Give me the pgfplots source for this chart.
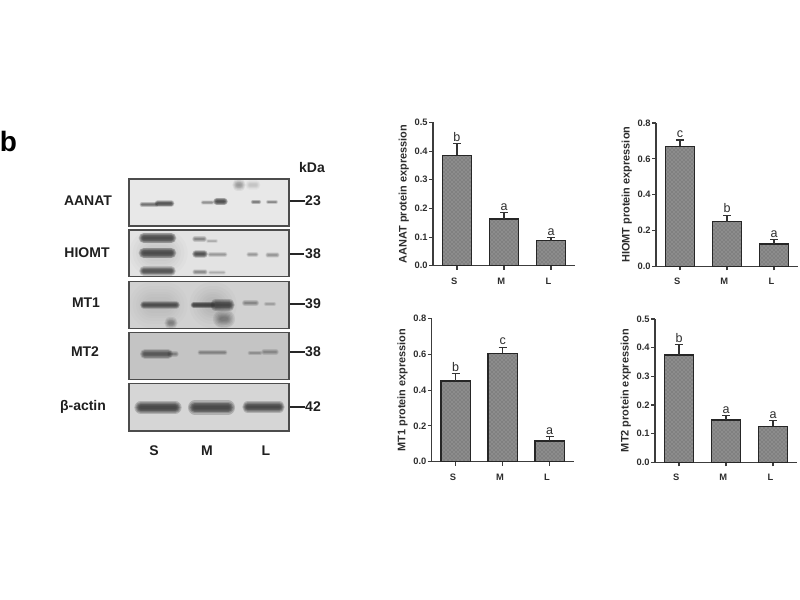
\documentclass[border=0pt]{standalone}
\usepackage{fontspec}
\setmainfont{Liberation Sans}
\usepackage{pgfplots}
\pgfplotsset{compat=1.18}
\usetikzlibrary{patterns}
\definecolor{axisgrey}{RGB}{60,60,60}
\definecolor{labelgrey}{RGB}{45,45,45}

% one blurry blot band, in pixel coordinates of the hidden axis
\newcommand{\bandlayer}[6]{%
  \addplot[forget plot, line cap=round, black!80, line width={#4*#6*1pt}, opacity={#5*0.24}] coordinates {(#1,#3) (#2,#3)};
}
\newcommand{\band}[5]{%
  \bandlayer{#1}{#2}{#3}{#4}{#5}{1.7}
  \bandlayer{#1}{#2}{#3}{#4}{#5}{1.45}
  \bandlayer{#1}{#2}{#3}{#4}{#5}{1.2}
  \bandlayer{#1}{#2}{#3}{#4}{#5}{1.0}
  \bandlayer{#1}{#2}{#3}{#4}{#5}{0.8}
  \bandlayer{#1}{#2}{#3}{#4}{#5}{0.6}
  \bandlayer{#1}{#2}{#3}{#4}{#5}{0.4}
}
\newcommand{\blotframe}[3]{%
  \addplot[forget plot, fill=#3, draw=none] coordinates {(129,#1) (289,#1) (289,#2) (129,#2)} -- cycle;
}
\newcommand{\blotedge}[2]{%
  \addplot[forget plot, draw=black!70, line width=0.8pt] coordinates {(129,#1) (289,#1) (289,#2) (129,#2)} -- cycle;
}

\pgfplotsset{
  expbar/.style={
    scale only axis, width=106.5pt, height=107.5pt,
    anchor=south west, clip=false,
    xmin=-0.51, xmax=2.51, ymin=0,
    axis lines=left, axis line style={-, axisgrey, line width=1pt},
    xtick={0,1,2}, xticklabels={S,M,L},
    tick align=outside, major tick length=3pt,
    tick style={axisgrey, line width=0.8pt},
    x tick label style={font=\fontsize{7}{8}\selectfont\bfseries, text=labelgrey, xshift=-2pt, yshift=-2.5pt},
    y tick label style={font=\fontsize{7}{8}\selectfont\bfseries, text=labelgrey, xshift=2.5pt},
    /pgf/number format/assume math mode=true,
    /pgf/number format/fixed, /pgf/number format/fixed zerofill, /pgf/number format/precision=1,
    ylabel style={at={(axis description cs:-0.205,0.5)}, anchor=center, font=\fontsize{8.2}{9}\selectfont\bfseries, text=labelgrey},
  },
  hatchbar/.style={
    ybar, bar width=22pt, bar shift=0pt, draw=black!85, line width=1pt,
    fill=black!45, postaction={pattern=crosshatch dots, pattern color=black!65},
    error bars/.cd, y dir=plus, y explicit, error mark options={rotate=90, mark size=3pt, line width=0.8pt, black!80},
    error bar style={line width=0.9pt, black!80},
  },
  sigletter/.style={
    draw=none, mark=none, forget plot, point meta=explicit symbolic,
    nodes near coords, every node near coord/.style={font=\fontsize{9.4}{10}\selectfont, text=labelgrey, anchor=south, inner sep=1pt, yshift=0.5pt},
  },
}

\begin{document}
\begin{tikzpicture}
\useasboundingbox (0,0) rectangle (600pt,450pt);

% blot panel, drawn in pixel coordinates of the image
\begin{axis}[at={(0,0)}, anchor=south west, scale only axis, width=600pt, height=450pt,
  xmin=0, xmax=800, ymin=0, ymax=600, y dir=reverse, hide axis, clip=false]
\blotframe{179}{226}{black!9}
\blotframe{230}{276.7}{black!11}
\blotframe{281.3}{328.3}{black!18}
\blotframe{332.3}{379.3}{black!23}
\blotframe{383.7}{431}{black!16}
% AANAT
\band{142}{156}{204.5}{2.2}{0.55}
\band{158}{171}{203.5}{3}{0.8}
\band{203}{212}{202.5}{2}{0.35}
\band{217}{224}{201.5}{3.4}{0.9}
\band{253}{259}{202}{2}{0.45}
\band{268}{276}{202}{1.8}{0.4}
\band{238}{240}{185}{5}{0.3}
\band{250}{256}{185}{4}{0.12}
% HIOMT
\band{152}{165}{253}{20}{0.08}
\band{144}{171}{238}{4.8}{0.9}
\band{144}{171}{253}{4.8}{0.9}
\band{144}{171}{271}{4.2}{0.8}
\band{195}{204}{239}{2.6}{0.4}
\band{208}{216}{241}{1.8}{0.2}
\band{196}{204}{254}{3.4}{0.85}
\band{210}{225}{254.5}{2.2}{0.3}
\band{195}{205}{272}{2.4}{0.35}
\band{210}{224}{272.5}{1.8}{0.2}
\band{249}{256}{254.5}{2.4}{0.3}
\band{268}{277}{255}{2.4}{0.3}
% MT1
\band{152}{165}{305}{20}{0.06}
\band{212}{214}{305}{20}{0.1}
\band{170}{172}{323}{5}{0.4}
\band{222}{226}{319}{8}{0.4}
\band{144}{176}{305}{3.4}{0.85}
\band{194}{212}{305}{3}{1}
\band{216}{229}{305}{5}{1}
\band{245}{256}{303}{2.8}{0.35}
\band{266}{274}{304}{2}{0.2}
% MT2
\band{145}{168}{354}{4.4}{0.7}
\band{170}{176}{354}{2.6}{0.35}
\band{200}{225}{352.5}{2.2}{0.35}
\band{250}{260}{353}{2.2}{0.25}
\band{264}{276}{352}{2.6}{0.3}
% beta-actin
\band{141}{175}{407.5}{5.8}{1}
\band{195}{228}{407.5}{6.2}{1}
\band{248}{279}{407}{5}{1}
\blotedge{179}{226}
\blotedge{230}{276.7}
\blotedge{281.3}{328.3}
\blotedge{332.3}{379.3}
\blotedge{383.7}{431}
% size marker lines
\addplot[forget plot, black!85, line width=1pt] coordinates {(290,201) (305,201)};
\addplot[forget plot, black!85, line width=1pt] coordinates {(290,254) (304,254)};
\addplot[forget plot, black!85, line width=1pt] coordinates {(290,304) (305,304)};
\addplot[forget plot, black!85, line width=1pt] coordinates {(290,352) (305,352)};
\addplot[forget plot, black!85, line width=1pt] coordinates {(290,407) (305,407)};
% text
\begin{scope}[every node/.style={font=\fontsize{10.5}{12}\selectfont\bfseries, text=black!88, inner sep=0pt}]
\node at (axis cs:88,201) {AANAT};
\node at (axis cs:87,253) {HIOMT};
\node at (axis cs:86,303) {MT1};
\node at (axis cs:85,352) {MT2};
\node at (axis cs:83,407) {β-actin};
\node at (axis cs:313,201) {23};
\node at (axis cs:313,254) {38};
\node at (axis cs:313,304) {39};
\node at (axis cs:313,352) {38};
\node at (axis cs:313,407) {42};
\node at (axis cs:312,167) {kDa};
\node at (axis cs:154,451) {S};
\node at (axis cs:207,451) {M};
\node at (axis cs:266,451) {L};
\node[font=\fontsize{21}{24}\selectfont\bfseries, text=black] at (axis cs:8.5,141) {b};
\end{scope}
\end{axis}

% AANAT
\begin{axis}[expbar, at={(324.75pt,250.7pt)}, ymax=0.5, ytick={0,0.1,0.2,0.3,0.4,0.5}, ylabel={AANAT protein expression}]
\addplot[hatchbar] coordinates {(0,0.385) +- (0,0.040) (1,0.163) +- (0,0.022) (2,0.087) +- (0,0.011)};
\addplot[sigletter] coordinates {(0,0.425)[b] (1,0.185)[a] (2,0.098)[a]};
\end{axis}

% HIOMT
\begin{axis}[expbar, at={(492pt,250.25pt)}, ymax=0.8, ytick={0,0.2,0.4,0.6,0.8}, ylabel={HIOMT protein expression}]
\addplot[hatchbar] coordinates {(0,0.670) +- (0,0.035) (1,0.250) +- (0,0.035) (2,0.125) +- (0,0.025)};
\addplot[sigletter] coordinates {(0,0.705)[c] (1,0.285)[b] (2,0.150)[a]};
\end{axis}

% MT1
\begin{axis}[expbar, at={(323.75pt,103.7pt)}, ymax=0.8, ytick={0,0.2,0.4,0.6,0.8}, ylabel={MT1 protein expression}]
\addplot[hatchbar] coordinates {(0,0.450) +- (0,0.040) (1,0.605) +- (0,0.035) (2,0.115) +- (0,0.025)};
\addplot[sigletter] coordinates {(0,0.490)[b] (1,0.640)[c] (2,0.140)[a]};
\end{axis}

% MT2
\begin{axis}[expbar, at={(491.25pt,103.25pt)}, ymax=0.5, ytick={0,0.1,0.2,0.3,0.4,0.5}, ylabel={MT2 protein expression}]
\addplot[hatchbar] coordinates {(0,0.375) +- (0,0.035) (1,0.148) +- (0,0.015) (2,0.125) +- (0,0.020)};
\addplot[sigletter] coordinates {(0,0.410)[b] (1,0.163)[a] (2,0.145)[a]};
\end{axis}
\end{tikzpicture}
\end{document}
